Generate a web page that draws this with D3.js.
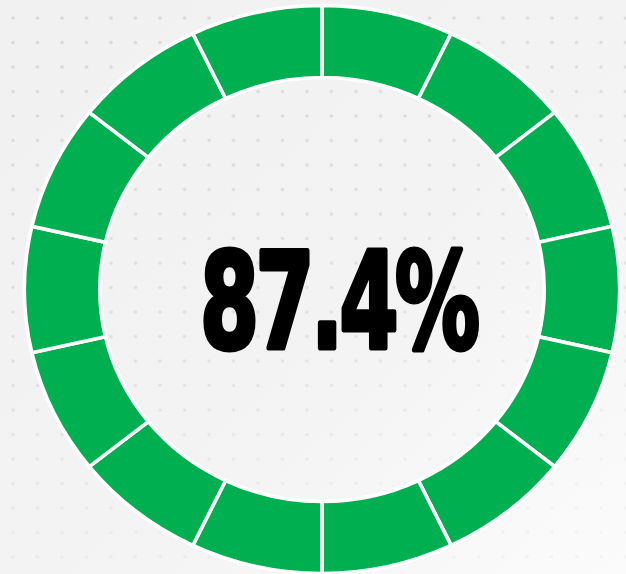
<!DOCTYPE html>
<html>
<head>
<meta charset="utf-8">
<script src="https://cdn.jsdelivr.net/npm/d3@7"></script>
<style>
  html, body { margin: 0; padding: 0; background: #f2f2f2; }
  svg { display: block; }
</style>
</head>
<body>
<div id="chart"></div>
<script>
// ring segments (all filled) and the centre value
var segments = [1, 1, 1, 1, 1, 1, 1, 1, 1, 1, 1, 1, 1, 1];
var filled = [true, true, true, true, true, true, true, true, true, true, true, true, true, true];
var valueLabel = "87.4%";

var width = 626, height = 574;
var cx = 322, cy = 289.5;
var stretch = 1.048; // ring is slightly wider than tall

var svg = d3.select("#chart").append("svg")
    .attr("width", width)
    .attr("height", height);

var defs = svg.append("defs");

// background: light grey with faint dot grid
var bg = defs.append("linearGradient")
    .attr("id", "bg")
    .attr("x1", "0").attr("y1", "0")
    .attr("x2", "1").attr("y2", "1");
bg.append("stop").attr("offset", "0").attr("stop-color", "#f1f1f1");
bg.append("stop").attr("offset", "0.55").attr("stop-color", "#f3f3f3");
bg.append("stop").attr("offset", "1").attr("stop-color", "#fbfbfb");

var dots = defs.append("pattern")
    .attr("id", "dots")
    .attr("patternUnits", "userSpaceOnUse")
    .attr("x", 1).attr("y", 6)
    .attr("width", 24.5).attr("height", 24.5);
dots.append("circle")
    .attr("cx", 12).attr("cy", 12)
    .attr("r", 1.7)
    .attr("fill", "#d2d2d2");

var fade = defs.append("linearGradient")
    .attr("id", "fade")
    .attr("x1", "0").attr("y1", "0")
    .attr("x2", "0.3").attr("y2", "1");
fade.append("stop").attr("offset", "0").attr("stop-color", "#fff").attr("stop-opacity", 1);
fade.append("stop").attr("offset", "0.6").attr("stop-color", "#fff").attr("stop-opacity", 0.7);
fade.append("stop").attr("offset", "1").attr("stop-color", "#fff").attr("stop-opacity", 0.2);
defs.append("mask").attr("id", "dotmask")
  .append("rect")
    .attr("width", width).attr("height", height)
    .attr("fill", "url(#fade)");

svg.append("rect")
    .attr("width", width).attr("height", height)
    .attr("fill", "url(#bg)");
svg.append("rect")
    .attr("width", width).attr("height", height)
    .attr("fill", "url(#dots)")
    .attr("mask", "url(#dotmask)")
    .attr("opacity", 0.9);

// ring
var pie = d3.pie()
    .sort(null)
    .value(function(d) { return d; });

var arc = d3.arc()
    .innerRadius(212)
    .outerRadius(284);

var ring = svg.append("g")
    .attr("transform", "translate(" + cx + "," + cy + ") scale(" + stretch + ",1)");

ring.selectAll("path")
  .data(pie(segments))
  .enter().append("path")
    .attr("d", arc)
    .attr("fill", function(d, i) { return filled[i] ? "#00b050" : "#d9d9d9"; })
    .attr("stroke", "#ffffff")
    .attr("stroke-width", 3.6)
    .attr("stroke-linejoin", "miter")
    .attr("vector-effect", "non-scaling-stroke");

// centre value, squeezed to the reference width
var label = svg.append("g");
var txt = label.append("text")
    .attr("x", 0)
    .attr("y", 0)
    .style("font-family", "'Liberation Sans Narrow', 'DejaVu Sans Condensed', 'Liberation Sans', sans-serif")
    .style("font-weight", "bold")
    .style("font-size", "133px")
    .style("letter-spacing", "-5px")
    .attr("fill", "#000")
    .attr("stroke", "#000")
    .attr("stroke-width", 5)
    .attr("stroke-linejoin", "round")
    .text(valueLabel);

var box = txt.node().getBBox();
var targetW = 278;
var sx = targetW / box.width;
label.attr("transform", "translate(" + (200 - box.x * sx) + ",348) scale(" + sx + ",1)");
</script>
</body>
</html>
